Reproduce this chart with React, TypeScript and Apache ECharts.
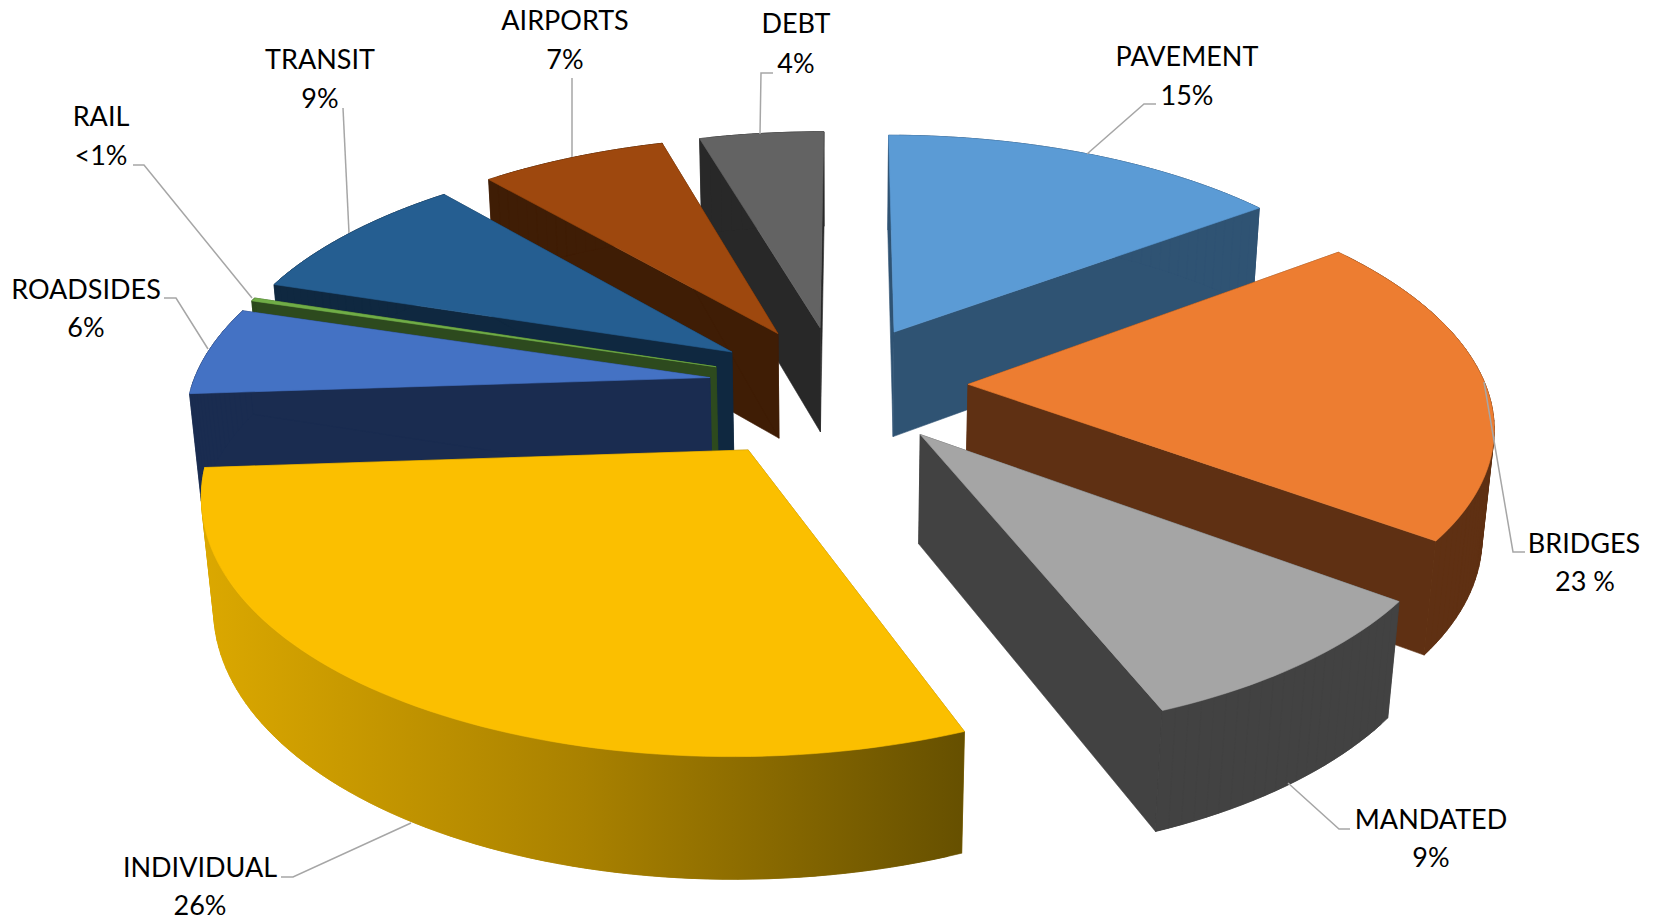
import React, { useEffect, useRef } from "react";
import * as echarts from "echarts";

const names = ["PAVEMENT","BRIDGES","MANDATED","INDIVIDUAL","ROADSIDES","RAIL","TRANSIT","AIRPORTS","DEBT"];
const pctLabels = ["15%","23 %","9%","26%","6%","<1%","9%","7%","4%"];
// Slice sizes
const values = [14.29,19.76,8.57,29.04,5.62,0.21,8.48,6.61,4.42];
const explode = [0.2521,0.2527,0.2553,0.3104,0.249,0.2482,0.2493,0.2482,0.2474];
const drawOrder = [8,7,6,5,4,3,0,1,2];
const topColors = ["#5b9bd5","#ed7d31","#a5a5a5","#fbbf00","#4472c4","#70ad47","#255e91","#9e480e","#636363"];
const wallColors = ["#2f5373","#5f3013","#424242","#8f6e00","#1a2c50","#2d4a1e","#0f2840","#3f1d05","#282828"];
const nameXY = [[1187,55],[1584,542],[1431,818],[200,866],[86,288],[101,115],[320,58],[565,19],[796,22]];
const pctXY = [[1187,94],[1585,580],[1431,856],[200,904],[86,326],[101,154],[320,97],[565,58],[796,62]];
const leaders = [
 [[1087,154],[1144,104],[1156,104]],
 [[1484,382],[1513,552],[1525,552]],
 [[1288,783],[1339,829],[1350,829]],
 [[411,823],[293,877],[281,877]],
 [[208,349],[176,298],[164,298]],
 [[252,298],[144,165],[133,165]],
 [[349,233],[343,108]],
 [[572,157],[572,78]],
 [[760,134],[761,73],[773,73]],
];

// Perspective camera of the 3-D pie
const camX = 837.3, camY = 384.4, scale = 517.3, persp = 0.1661, tilt = 0.4826, thickness = 0.2378, startAngle = 0.0036;

function proj(X:number,Y:number,Z:number){
  const w=1+persp*(Y*Math.cos(tilt)-Z*Math.sin(tilt));
  return [camX+scale*X/w, camY-scale*(Y*Math.sin(tilt)+Z*Math.cos(tilt))/w];
}
const total=values.reduce((a,b)=>a+b,0);
function sliceGeom(i:number){
  let s=startAngle;
  for(let j=0;j<i;j++) s+=values[j]/total*Math.PI*2;
  const e=s+values[i]/total*Math.PI*2;
  const m=(s+e)/2;
  return {s,e,ox:explode[i]*Math.sin(m),oy:explode[i]*Math.cos(m)};
}

const renderSlice=(params:any,api:any)=>{
  const i=api.value(0); const q=sliceGeom(i); const h=thickness;
  const pt=(th:number,rad:number,Z:number)=>proj(q.ox+rad*Math.sin(th),q.oy+rad*Math.cos(th),Z);
  const n=Math.max(6,Math.ceil((q.e-q.s)*40));
  const arcT:number[][]=[],arcB:number[][]=[];
  for(let j=0;j<=n;j++){const th=q.s+(q.e-q.s)*j/n;arcT.push(pt(th,1,0));arcB.push(pt(th,1,-h));}
  const aT=pt(0,0,0),aB=pt(0,0,-h);
  const wall=i===3?new echarts.graphic.LinearGradient(204,0,964,0,[{offset:0,color:"#dba800"},{offset:0.5,color:"#a98100"},{offset:1,color:"#665000"}],true):wallColors[i];
  const poly=(pts:number[][],fill:any)=>({type:"polygon",shape:{points:pts},style:{fill,stroke:fill,lineWidth:0.6}});
  const quads=[];
  for(let j=0;j<n;j++){
    const k=Math.min(j+2,n);
    quads.push(poly([arcT[j],arcT[j+1],arcT[k],arcB[k],arcB[j+1],arcB[j]],wall));
  }
  return {type:"group",children:[
    poly([aT,arcT[0],arcB[0],aB],wallColors[i]),
    poly([aT,arcT[n],arcB[n],aB],wallColors[i]),
    ...quads,
    poly([aT,...arcT],topColors[i]),
  ]};
};
const FONT='27px Lato';
const graphics=[
  ...leaders.map(l=>({type:"polyline",shape:{points:l},style:{stroke:"#a6a6a6",lineWidth:1.5,fill:null},z:5})),
  ...names.map((t,i)=>({type:"text",x:nameXY[i][0],y:nameXY[i][1],z:6,style:{text:t,font:FONT,fill:"#000",align:"center",verticalAlign:"middle"}})),
  ...pctLabels.map((t,i)=>({type:"text",x:pctXY[i][0],y:pctXY[i][1],z:6,style:{text:t,font:FONT,fill:"#000",align:"center",verticalAlign:"middle"}})),
];

export default function App(){
  const ref=useRef<HTMLDivElement>(null);
  useEffect(()=>{
    const chart=echarts.init(ref.current!,undefined,{renderer:"svg"});
    chart.setOption({animation:false,graphic:graphics,series:[{type:"custom",coordinateSystem:"none",renderItem:renderSlice,data:drawOrder.map(i=>[i,values[i]])}]});
    return ()=>chart.dispose();
  },[]);
  return <div style={{position:"fixed",left:0,top:0,width:1664,height:921,background:"#fff"}}>
    <div ref={ref} style={{width:1664,height:921}}/>
  </div>;
}
